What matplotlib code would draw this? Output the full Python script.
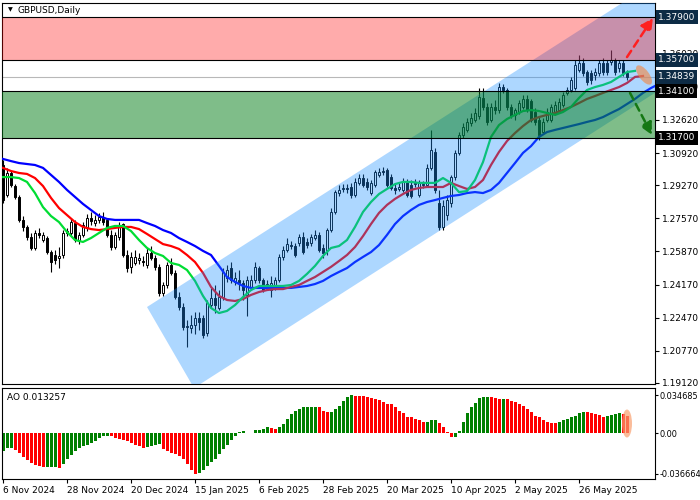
import numpy as np
import matplotlib
matplotlib.use('Agg')
import matplotlib.pyplot as plt
from matplotlib.patches import Polygon, Ellipse
from matplotlib.transforms import ScaledTranslation

# GBPUSD daily bars, 6 Nov 2024 .. mid Jun 2025
bar_open = [
    1.3031, 1.2877, 1.2990, 1.2923, 1.2867, 1.2749, 1.2713, 1.2661, 1.2605, 1.2682,
    1.2646, 1.2656, 1.2584, 1.2569, 1.2554, 1.2569, 1.2682, 1.2682, 1.2733, 1.2646,
    1.2672, 1.2708, 1.2759, 1.2733, 1.2749, 1.2764, 1.2749, 1.2672, 1.2610, 1.2661,
    1.2728, 1.2569, 1.2508, 1.2528, 1.2543, 1.2538, 1.2518, 1.2579, 1.2554, 1.2508,
    1.2374, 1.2415, 1.2518, 1.2477, 1.2353, 1.2302, 1.2200, 1.2194, 1.2210, 1.2246,
    1.2246, 1.2169, 1.2312, 1.2348, 1.2297, 1.2353, 1.2451, 1.2502, 1.2431, 1.2441,
    1.2425, 1.2364, 1.2405, 1.2441, 1.2502, 1.2441, 1.2405, 1.2389, 1.2405, 1.2441,
    1.2559, 1.2595, 1.2620, 1.2615, 1.2631, 1.2661, 1.2636, 1.2631, 1.2656, 1.2672,
    1.2605, 1.2595, 1.2697, 1.2790, 1.2887, 1.2908, 1.2913, 1.2918, 1.2877, 1.2939,
    1.2964, 1.2944, 1.2887, 1.2928, 1.2980, 1.3000, 1.3005, 1.2969, 1.2913, 1.2908,
    1.2903, 1.2944, 1.2928, 1.2933, 1.2877, 1.2933, 1.2928, 1.3015, 1.3098, 1.2836,
    1.2713, 1.2775, 1.2836, 1.2969, 1.3093, 1.3185, 1.3211, 1.3247, 1.3262, 1.3283,
    1.3375, 1.3329, 1.3262, 1.3329, 1.3313, 1.3431, 1.3416, 1.3329, 1.3288, 1.3303,
    1.3329, 1.3370, 1.3360, 1.3303, 1.3262, 1.3200, 1.3262, 1.3262, 1.3298, 1.3313,
    1.3339, 1.3401, 1.3416, 1.3426, 1.3519, 1.3555, 1.3508, 1.3503, 1.3493, 1.3503,
    1.3555, 1.3555, 1.3560, 1.3570, 1.3529, 1.3555, 1.3503]
bar_high = [
    1.3057, 1.3015, 1.3000, 1.2933, 1.2877, 1.2769, 1.2723, 1.2682, 1.2697, 1.2708,
    1.2687, 1.2667, 1.2595, 1.2595, 1.2610, 1.2697, 1.2708, 1.2759, 1.2749, 1.2687,
    1.2738, 1.2780, 1.2790, 1.2775, 1.2785, 1.2790, 1.2759, 1.2697, 1.2687, 1.2738,
    1.2733, 1.2595, 1.2584, 1.2595, 1.2579, 1.2564, 1.2605, 1.2615, 1.2569, 1.2523,
    1.2431, 1.2533, 1.2554, 1.2492, 1.2379, 1.2323, 1.2235, 1.2261, 1.2276, 1.2276,
    1.2261, 1.2338, 1.2400, 1.2415, 1.2389, 1.2502, 1.2518, 1.2533, 1.2482, 1.2492,
    1.2441, 1.2461, 1.2466, 1.2533, 1.2513, 1.2451, 1.2441, 1.2461, 1.2456, 1.2574,
    1.2615, 1.2656, 1.2641, 1.2631, 1.2677, 1.2687, 1.2656, 1.2677, 1.2697, 1.2687,
    1.2626, 1.2708, 1.2810, 1.2903, 1.2928, 1.2933, 1.2933, 1.2938, 1.2964, 1.2985,
    1.2985, 1.2964, 1.2954, 1.3005, 1.3015, 1.3021, 1.3015, 1.2985, 1.2939, 1.2939,
    1.2964, 1.2959, 1.2954, 1.2959, 1.2954, 1.2949, 1.3036, 1.3211, 1.3118, 1.2903,
    1.2851, 1.2877, 1.2980, 1.3108, 1.3201, 1.3247, 1.3272, 1.3298, 1.3324, 1.3426,
    1.3426, 1.3349, 1.3349, 1.3365, 1.3452, 1.3447, 1.3426, 1.3344, 1.3324, 1.3365,
    1.3390, 1.3390, 1.3370, 1.3324, 1.3278, 1.3272, 1.3324, 1.3344, 1.3360, 1.3375,
    1.3406, 1.3431, 1.3483, 1.3570, 1.3596, 1.3580, 1.3519, 1.3519, 1.3529, 1.3570,
    1.3580, 1.3570, 1.3621, 1.3580, 1.3570, 1.3570, 1.3519]
bar_low = [
    1.2836, 1.2867, 1.2918, 1.2857, 1.2738, 1.2692, 1.2646, 1.2595, 1.2595, 1.2656,
    1.2636, 1.2574, 1.2482, 1.2523, 1.2502, 1.2554, 1.2667, 1.2672, 1.2636, 1.2626,
    1.2661, 1.2692, 1.2723, 1.2718, 1.2733, 1.2723, 1.2661, 1.2595, 1.2600, 1.2646,
    1.2559, 1.2482, 1.2477, 1.2518, 1.2523, 1.2513, 1.2502, 1.2543, 1.2492, 1.2359,
    1.2359, 1.2400, 1.2466, 1.2343, 1.2287, 1.2184, 1.2097, 1.2169, 1.2164, 1.2184,
    1.2143, 1.2153, 1.2297, 1.2271, 1.2287, 1.2338, 1.2431, 1.2425, 1.2415, 1.2389,
    1.2338, 1.2256, 1.2389, 1.2425, 1.2425, 1.2379, 1.2389, 1.2353, 1.2389, 1.2431,
    1.2543, 1.2584, 1.2600, 1.2559, 1.2615, 1.2574, 1.2605, 1.2615, 1.2646, 1.2584,
    1.2554, 1.2569, 1.2687, 1.2780, 1.2872, 1.2892, 1.2887, 1.2862, 1.2867, 1.2928,
    1.2918, 1.2903, 1.2877, 1.2918, 1.2969, 1.2980, 1.2918, 1.2903, 1.2882, 1.2898,
    1.2892, 1.2867, 1.2862, 1.2918, 1.2867, 1.2913, 1.2918, 1.3005, 1.2887, 1.2697,
    1.2697, 1.2749, 1.2815, 1.2954, 1.3082, 1.3170, 1.3200, 1.3231, 1.3252, 1.3267,
    1.3313, 1.3236, 1.3252, 1.3293, 1.3298, 1.3401, 1.3313, 1.3272, 1.3262, 1.3293,
    1.3318, 1.3303, 1.3252, 1.3236, 1.3159, 1.3190, 1.3252, 1.3252, 1.3288, 1.3303,
    1.3329, 1.3390, 1.3406, 1.3416, 1.3508, 1.3488, 1.3442, 1.3447, 1.3467, 1.3488,
    1.3493, 1.3493, 1.3544, 1.3493, 1.3508, 1.3488, 1.3467]
bar_close = [
    1.2851, 1.2990, 1.2928, 1.2867, 1.2749, 1.2713, 1.2661, 1.2605, 1.2682, 1.2672,
    1.2672, 1.2584, 1.2533, 1.2543, 1.2564, 1.2682, 1.2692, 1.2738, 1.2646, 1.2672,
    1.2723, 1.2759, 1.2744, 1.2749, 1.2764, 1.2738, 1.2672, 1.2610, 1.2672, 1.2723,
    1.2569, 1.2503, 1.2559, 1.2559, 1.2554, 1.2533, 1.2579, 1.2554, 1.2508, 1.2374,
    1.2415, 1.2518, 1.2477, 1.2353, 1.2302, 1.2200, 1.2205, 1.2210, 1.2246, 1.2225,
    1.2158, 1.2323, 1.2348, 1.2312, 1.2353, 1.2482, 1.2492, 1.2441, 1.2451, 1.2425,
    1.2389, 1.2441, 1.2441, 1.2508, 1.2441, 1.2389, 1.2420, 1.2425, 1.2441, 1.2559,
    1.2595, 1.2626, 1.2615, 1.2569, 1.2661, 1.2584, 1.2620, 1.2661, 1.2672, 1.2595,
    1.2579, 1.2697, 1.2790, 1.2892, 1.2903, 1.2913, 1.2908, 1.2877, 1.2944, 1.2964,
    1.2928, 1.2918, 1.2939, 1.2995, 1.2995, 1.2995, 1.2928, 1.2913, 1.2903, 1.2918,
    1.2944, 1.2877, 1.2872, 1.2939, 1.2939, 1.2928, 1.3015, 1.3108, 1.2903, 1.2713,
    1.2821, 1.2851, 1.2969, 1.3093, 1.3185, 1.3226, 1.3252, 1.3272, 1.3298, 1.3380,
    1.3329, 1.3252, 1.3329, 1.3313, 1.3431, 1.3416, 1.3329, 1.3283, 1.3313, 1.3349,
    1.3370, 1.3313, 1.3262, 1.3252, 1.3185, 1.3252, 1.3303, 1.3329, 1.3339, 1.3355,
    1.3390, 1.3416, 1.3467, 1.3544, 1.3555, 1.3503, 1.3457, 1.3467, 1.3508, 1.3555,
    1.3508, 1.3508, 1.3570, 1.3508, 1.3555, 1.3503, 1.3483]

# alligator lines, one value every second bar
jaw = [
    1.3062, 1.3051, 1.3041, 1.3036, 1.3031, 1.3016, 1.2980, 1.2944, 1.2903, 1.2867,
    1.2831, 1.2800, 1.2769, 1.2754, 1.2749, 1.2749, 1.2749, 1.2749, 1.2733, 1.2718,
    1.2697, 1.2682, 1.2656, 1.2636, 1.2615, 1.2590, 1.2569, 1.2513, 1.2456, 1.2431,
    1.2410, 1.2400, 1.2400, 1.2400, 1.2400, 1.2400, 1.2400, 1.2405, 1.2410, 1.2420,
    1.2436, 1.2461, 1.2482, 1.2502, 1.2533, 1.2559, 1.2584, 1.2620, 1.2672, 1.2728,
    1.2769, 1.2800, 1.2826, 1.2841, 1.2851, 1.2862, 1.2872, 1.2877, 1.2887, 1.2892,
    1.2887, 1.2903, 1.2939, 1.2990, 1.3041, 1.3093, 1.3128, 1.3175, 1.3200, 1.3211,
    1.3221, 1.3231, 1.3241, 1.3252, 1.3262, 1.3277, 1.3298, 1.3318, 1.3344, 1.3370,
    1.3401, 1.3426, 1.3447]
teeth = [
    1.3016, 1.3000, 1.2990, 1.2985, 1.2964, 1.2923, 1.2862, 1.2810, 1.2774, 1.2738,
    1.2713, 1.2702, 1.2697, 1.2702, 1.2708, 1.2713, 1.2713, 1.2702, 1.2677, 1.2651,
    1.2625, 1.2615, 1.2600, 1.2569, 1.2533, 1.2477, 1.2405, 1.2359, 1.2338, 1.2333,
    1.2343, 1.2364, 1.2379, 1.2389, 1.2394, 1.2394, 1.2405, 1.2415, 1.2436, 1.2456,
    1.2482, 1.2508, 1.2538, 1.2569, 1.2610, 1.2666, 1.2728, 1.2785, 1.2826, 1.2857,
    1.2882, 1.2903, 1.2913, 1.2918, 1.2918, 1.2918, 1.2939, 1.2923, 1.2908, 1.2918,
    1.2954, 1.3031, 1.3098, 1.3154, 1.3195, 1.3231, 1.3262, 1.3277, 1.3288, 1.3298,
    1.3313, 1.3329, 1.3349, 1.3370, 1.3385, 1.3401, 1.3416, 1.3431, 1.3452, 1.3483,
    1.3488]
lips = [
    1.2969, 1.2969, 1.2964, 1.2944, 1.2887, 1.2815, 1.2769, 1.2738, 1.2687, 1.2646,
    1.2636, 1.2656, 1.2682, 1.2708, 1.2718, 1.2718, 1.2692, 1.2646, 1.2605, 1.2579,
    1.2564, 1.2528, 1.2518, 1.2492, 1.2436, 1.2359, 1.2297, 1.2271, 1.2282, 1.2312,
    1.2353, 1.2389, 1.2410, 1.2410, 1.2410, 1.2410, 1.2415, 1.2436, 1.2472, 1.2513,
    1.2564, 1.2605, 1.2615, 1.2646, 1.2713, 1.2790, 1.2841, 1.2882, 1.2908, 1.2933,
    1.2944, 1.2944, 1.2939, 1.2939, 1.2939, 1.2964, 1.2939, 1.2892, 1.2897, 1.2954,
    1.3046, 1.3175, 1.3236, 1.3267, 1.3288, 1.3308, 1.3313, 1.3308, 1.3298, 1.3288,
    1.3303, 1.3329, 1.3375, 1.3416, 1.3431, 1.3442, 1.3457, 1.3483, 1.3508, 1.3514]

# Awesome Oscillator, in units of 1e-4
ao_e4 = [
    -158, -136, -132, -150, -176, -211, -246, -273, -290, -299,
    -308, -306, -304, -302, -312, -279, -235, -200, -161, -138,
    -117, -103, -88, -73, -44, -29, -20, -29, -44, -48,
    -59, -73, -88, -103, -117, -132, -126, -117, -103, -101,
    -147, -161, -176, -191, -205, -235, -279, -337, -367, -365,
    -337, -293, -264, -235, -191, -147, -103, -59, -20, 15,
    20, 3, 5, 26, 29, 35, 53, 44, 35, 53,
    88, 132, 176, 202, 220, 235, 238, 240, 241, 235,
    205, 196, 198, 220, 249, 293, 328, 346, 343, 341,
    337, 328, 317, 315, 299, 288, 270, 264, 240, 205,
    182, 152, 147, 126, 117, 103, 104, 117, 118, 94,
    59, 9, -35, -33, 20, 103, 182, 240, 279, 323,
    332, 333, 331, 323, 308, 312, 308, 293, 284, 264,
    249, 220, 191, 161, 147, 117, 103, 94, 93, 103,
    117, 132, 147, 161, 185, 191, 190, 185, 176, 167,
    152, 161, 167, 176, 182, 176, 161]

date_bars = [0, 16, 32, 48, 64, 80, 96, 112, 128, 144]
date_labels = ['6 Nov 2024', '28 Nov 2024', '20 Dec 2024', '15 Jan 2025', '6 Feb 2025',
               '28 Feb 2025', '20 Mar 2025', '10 Apr 2025', '2 May 2025', '26 May 2025']

price_ticks = [1.37720, 1.36020, 1.34320, 1.32620, 1.30920, 1.29270, 1.27570,
               1.25870, 1.24170, 1.22470, 1.20770, 1.19120]
ao_ticks = [0.034685, 0.0, -0.036664]
ao_tick_labels = ['0.034685', '0.00', '-0.036664']

resistance_zone = (1.3570, 1.3790)
support_zone = (1.3170, 1.3410)
last_price = 1.34839
box_levels = [1.37900, 1.35700, 1.34839, 1.34100, 1.31700]
box_colors = ['#0d2b45', '#0d2b45', '#0d2b45', 'black', 'black']

channel_corners = [(36.0, 1.2302), (47.75, 1.1886), (179.25, 1.3615), (179.25, 1.4184)]
up_arrow = [(156.0, 1.3585), (162.5, 1.3786)]
down_arrow = [(156.75, 1.3401), (162.25, 1.3185)]

plt.rcParams['font.family'] = 'DejaVu Sans'
plt.rcParams['font.size'] = 6.5

o = np.array(bar_open)
h = np.array(bar_high)
l = np.array(bar_low)
c = np.array(bar_close)
idx = np.arange(len(c))

fig = plt.figure(figsize=(7, 5), dpi=100)
ax = fig.add_axes([2 / 700, 116 / 500, 653 / 700, 381 / 500])
ax2 = fig.add_axes([2 / 700, 21 / 500, 653 / 700, 91 / 500])

# candles
ax.vlines(idx, l, h, color='black', lw=0.8, zorder=2)
body_col = ['white' if cc >= oo else 'black' for oo, cc in zip(o, c)]
ax.bar(idx, np.abs(c - o), bottom=np.minimum(o, c), width=0.7, color=body_col,
       edgecolor='black', lw=0.7, zorder=3)

# alligator
ax.plot(np.arange(len(jaw)) * 2, jaw, color='#0000ff', lw=1.6, zorder=4)
ax.plot(np.arange(len(teeth)) * 2, teeth, color='#ff0000', lw=1.6, zorder=4)
ax.plot(np.arange(len(lips)) * 2, lips, color='#00dd33', lw=1.6, zorder=4)

ax.axhline(last_price, color='#b8b8b8', lw=0.8, zorder=1.5)

# channel + zones
ax.add_patch(Polygon(channel_corners, closed=True, fc='#1e90ff', alpha=0.36, ec='none', zorder=5))
ax.axhspan(*resistance_zone, color='#ff0000', alpha=0.33, lw=0, zorder=6)
ax.axhspan(*support_zone, color='#007d14', alpha=0.5, lw=0, zorder=6)
for lv in resistance_zone + support_zone:
    ax.axhline(lv, color='black', lw=0.8, zorder=7)

for pts, col in ((up_arrow, '#ff2020'), (down_arrow, '#147814')):
    ax.annotate('', xy=pts[1], xytext=pts[0], annotation_clip=False, zorder=8,
                arrowprops=dict(arrowstyle='-|>,head_length=0.6,head_width=0.3',
                                color=col, lw=1.8, linestyle=(0, (3, 2)),
                                shrinkA=0, shrinkB=0, mutation_scale=12))

ax.add_patch(Ellipse((0, 0), 23, 10, angle=-53, fc='#f08a4b', ec='none', alpha=0.65,
                     transform=ScaledTranslation(160.25, 1.3493, ax.transData),
                     zorder=9, clip_on=False))

ax.set_xlim(-0.25, 163.0)
ax.set_ylim(1.19068, 1.38625)
ax.set_xticks([])
ax.yaxis.tick_right()
ax.set_yticks(price_ticks)
ax.set_yticklabels([f'{v:.5f}' for v in price_ticks])
ax.tick_params(axis='y', length=3, width=0.8, pad=2, labelsize=6.5)
for s in ax.spines.values():
    s.set_linewidth(0.8)

for lv, fc in zip(box_levels, box_colors):
    ax.text(1.0045, lv, f'{lv:.5f}', transform=ax.get_yaxis_transform(), ha='left',
            va='center', fontsize=6.5, color='white', zorder=10, clip_on=False,
            bbox=dict(boxstyle='square,pad=0.25', fc=fc, ec='none'))

ax.text(0.009, 0.9816, '\u25bc', transform=ax.transAxes, fontsize=4.5, va='center')
ax.text(0.0245, 0.9816, 'GBPUSD,Daily', transform=ax.transAxes, fontsize=6.5, va='center')

# AO panel
ao = np.array(ao_e4) / 1e4
ao_col = ['#008000' if d >= 0 else '#ff0000' for d in np.diff(ao, prepend=ao[0])]
ax2.bar(idx, ao, width=0.75, color=ao_col, lw=0)
ax2.add_patch(Ellipse((0, 0), 10, 28, fc='#f9a070', ec='none', alpha=0.7,
                      transform=ScaledTranslation(156, 0.0089, ax2.transData),
                      zorder=5, clip_on=False))
ax2.set_xlim(-0.25, 163.0)
ax2.set_ylim(-0.04155, 0.0412)
ax2.yaxis.tick_right()
ax2.set_yticks(ao_ticks)
ax2.set_yticklabels(ao_tick_labels)
ax2.set_xticks(date_bars)
ax2.set_xticklabels(date_labels, ha='left')
ax2.tick_params(axis='x', length=3, width=0.8, pad=2, labelsize=6.5)
ax2.tick_params(axis='y', length=2, width=0.8, pad=1, labelsize=5.9)
for s in ax2.spines.values():
    s.set_linewidth(0.8)
ax2.text(0.008, 0.9, 'AO 0.013257', transform=ax2.transAxes, fontsize=6.5, va='center')

fig.savefig('out.png', dpi=100)
